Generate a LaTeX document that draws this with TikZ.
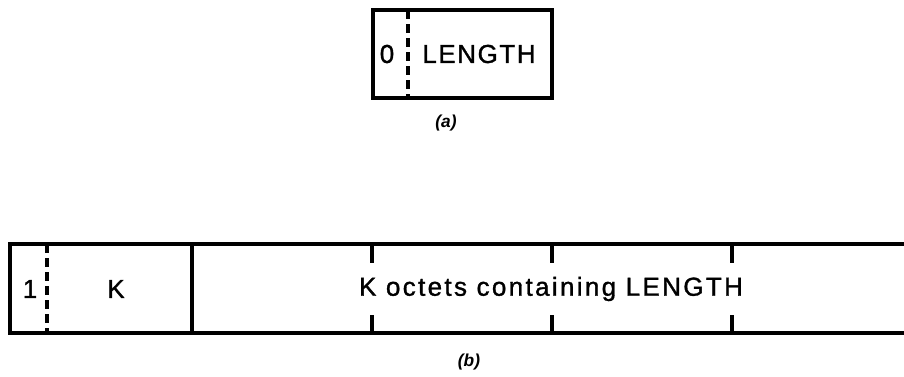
\documentclass[tikz,border=0pt]{standalone}
\usepackage{fontspec}
\setmainfont{Liberation Sans}
\newfontfamily\labfont[LetterSpace=6,FakeBold=1.2]{Liberation Sans}
\newfontfamily\widefont[LetterSpace=9,FakeBold=1.2]{Liberation Sans}
\begin{document}
\begin{tikzpicture}[x=0.75pt,y=-0.75pt,
  frame/.style={line width=2.6pt},
  dashdiv/.style={line width=2.6pt,dash pattern=on 6.5pt off 4pt},
  tickline/.style={line width=2.6pt},
  lab/.style={inner sep=0pt,font=\labfont\fontsize{19.5}{22}\selectfont},
  widelab/.style={inner sep=0pt,font=\widefont\fontsize{19.5}{22}\selectfont},
  sublabel/.style={inner sep=0pt,font=\itshape\bfseries\fontsize{13}{15}\selectfont}]
\useasboundingbox (0,0) rectangle (904,376);
% (a)
\draw[frame] (373,10) rectangle (552,98);
\coordinate (da1) at (408,10);
\coordinate (da2) at (408,98);
\draw[dashdiv] (da1) -- (da2);
\node[lab] (zero) at (387,54) {0};
\node[lab] (len) at (479,54) {LENGTH};
\node[sublabel] (capa) at (446,123) {(a)};
% (b)
\draw[frame] (904,244) -- (10,244) -- (10,333) -- (904,333);
\coordinate (db1) at (47,244);
\coordinate (db2) at (47,333);
\draw[dashdiv] (db1) -- (db2);
\coordinate (s1) at (192,244);
\coordinate (s2) at (192,333);
\draw[frame] (s1) -- (s2);
\foreach \x/\n in {372/a,552/b,732/c}{
  \coordinate (t\n1) at (\x,244);
  \coordinate (t\n2) at (\x,263);
  \coordinate (t\n3) at (\x,315);
  \coordinate (t\n4) at (\x,333);
  \draw[tickline] (t\n1) -- (t\n2);
  \draw[tickline] (t\n3) -- (t\n4);
}
\node[lab] (one) at (30,289) {1};
\node[lab] (k) at (116,289) {K};
\node[widelab] (oct) at (551,289) {K octets containing LENGTH};
\node[sublabel] (capb) at (469,362) {(b)};
\end{tikzpicture}
\end{document}
